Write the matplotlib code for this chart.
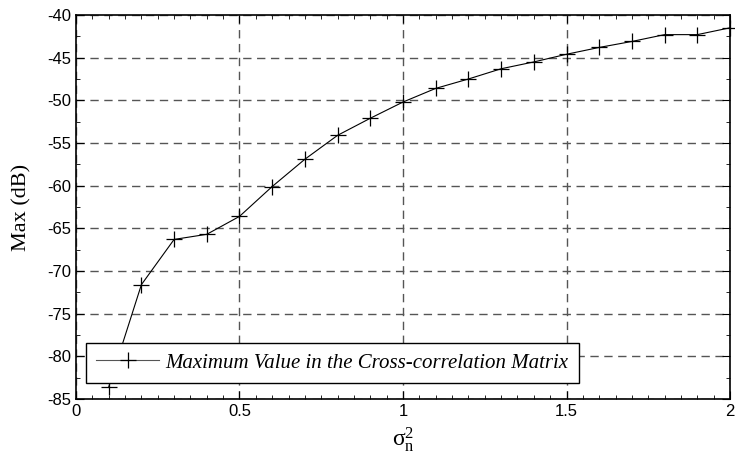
import numpy as np
import matplotlib
matplotlib.use("Agg")
from matplotlib import pyplot as plt
from matplotlib.ticker import MultipleLocator, FormatStrFormatter

plt.rcParams["axes.unicode_minus"] = False

# noise variance vs max value of the cross-correlation matrix
sigma2 = [0.1, 0.2, 0.3, 0.4, 0.5, 0.6, 0.7, 0.8, 0.9, 1.0,
          1.1, 1.2, 1.3, 1.4, 1.5, 1.6, 1.7, 1.8, 1.9, 2.0]
max_db = [-83.6, -71.6, -66.3, -65.7, -63.6, -60.1, -56.9, -54.1, -52.1, -50.2,
          -48.6, -47.5, -46.3, -45.5, -44.6, -43.8, -43.1, -42.3, -42.3, -41.5]
legend_label = "Maximum Value in the Cross-correlation Matrix"

fig = plt.figure(figsize=(7.35, 4.66), dpi=100)
ax = fig.add_axes([0.1034, 0.1438, 0.8898, 0.824])

ax.plot(sigma2, max_db, color="black", lw=0.8, marker="+", markersize=11,
        markeredgewidth=0.9, label=legend_label, clip_on=False, zorder=3)

ax.set_xlim(0, 2)
ax.set_ylim(-85, -40)
ax.xaxis.set_major_locator(MultipleLocator(0.5))
ax.xaxis.set_minor_locator(MultipleLocator(0.05))
ax.yaxis.set_major_locator(MultipleLocator(5))
ax.yaxis.set_minor_locator(MultipleLocator(2.5))
ax.xaxis.set_major_formatter(FormatStrFormatter("%g"))
ax.yaxis.set_major_formatter(FormatStrFormatter("%g"))
ax.tick_params(which="both", direction="in", top=True, right=True,
               labelsize=12)
ax.tick_params(which="major", length=6)
ax.tick_params(which="minor", length=3)
for lbl in ax.get_xticklabels() + ax.get_yticklabels():
    lbl.set_fontfamily("Liberation Sans")

ax.grid(True, which="major", linestyle=(0, (6, 4)), color="#555555", lw=1.0)
for s in ax.spines.values():
    s.set_linewidth(1.2)

ax.set_ylabel("Max (dB)", fontfamily="Liberation Serif", fontsize=16, labelpad=11)
ax.set_xlabel(r"$\mathregular{σ_n^2}$", fontfamily="Liberation Serif", fontsize=17,
              labelpad=5)

leg = ax.legend(loc="lower left", bbox_to_anchor=(0.0153, 0.0417), borderaxespad=0,
                fancybox=False, edgecolor="black", framealpha=1,
                prop={"family": "Liberation Serif", "style": "italic", "size": 15},
                handlelength=3.0, handletextpad=0.3, borderpad=0.5)
leg.get_frame().set_linewidth(1.0)
for h in leg.get_lines():
    h.set_color("#555555")
    h.set_markeredgecolor("black")

fig.savefig("out.png", dpi=100)
